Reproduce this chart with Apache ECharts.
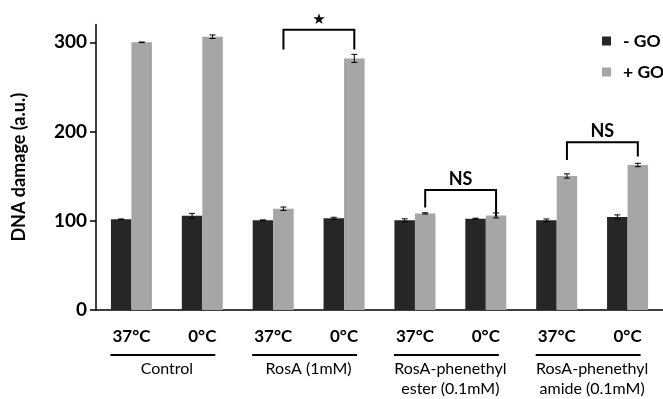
<!DOCTYPE html>
<html>
<head>
<meta charset="utf-8">
<script src="https://cdn.jsdelivr.net/npm/echarts@6/dist/echarts.min.js"></script>
<style>
  html, body { margin: 0; padding: 0; background: #fff; }
  #chart { width: 663px; height: 399px; }
</style>
</head>
<body>
<div id="chart"></div>
<script>
// values
const categories = ['37°C', '0°C', '37°C', '0°C', '37°C', '0°C', '37°C', '0°C'];
const groups = ['Control', 'RosA (1mM)', 'RosA-phenethyl\nester (0.1mM)', 'RosA-phenethyl\namide (0.1mM)'];
const minusGO = [101.6, 105.5, 100.5, 102.7, 100.5, 102.4, 100.5, 104.2];
const minusErr = [0.4, 2.8, 0.5, 1.2, 1.7, 0.5, 1.5, 2.4];
const plusGO = [300, 306.3, 113.5, 282, 108.3, 106, 150.2, 162.5];
const plusErr = [0.3, 2.0, 1.9, 4.5, 0.7, 2.8, 2.4, 1.9];
const yTicks = [0, 100, 200, 300];
// [from category, to category, bracket top, left leg end, right leg end, label]
const brackets = [
  [2, 3, 314, 292, 292, '★'],
  [4, 5, 134.5, 115, 104.6, 'NS'],
  [6, 7, 188, 168, 172, 'NS']
];
const groupSpans = [[0, 1], [2, 3], [4, 5], [6, 7]];

const BAR_W = 20.5;
const FONT = 'Lato';

function errorBars(values, errs, side) {
  return {
    type: 'custom',
    silent: true,
    z: 5,
    data: values.map((v, i) => [i, v, errs[i]]),
    renderItem: function (params, api) {
      const x = api.value(0), v = api.value(1), e = api.value(2);
      const top = api.coord([x, v + e]);
      const bot = api.coord([x, v - e]);
      const cx = top[0] + side * BAR_W / 2;
      const st = { stroke: '#000', lineWidth: 1 };
      return {
        type: 'group',
        children: [
          { type: 'line', shape: { x1: cx, y1: top[1], x2: cx, y2: bot[1] }, style: st },
          { type: 'line', shape: { x1: cx - 3, y1: top[1], x2: cx + 3, y2: top[1] }, style: st },
          { type: 'line', shape: { x1: cx - 3, y1: bot[1], x2: cx + 3, y2: bot[1] }, style: st }
        ]
      };
    }
  };
}

const chart = echarts.init(document.getElementById('chart'));
chart.setOption({
  animation: false,
  textStyle: { fontFamily: FONT },
  grid: { left: 96, top: 24.5, width: 568, bottom: 89, containLabel: false },
  legend: {
    data: ['- GO', '+ GO'],
    orient: 'vertical',
    left: 597,
    top: 27,
    itemWidth: 9,
    itemHeight: 9,
    itemGap: 13,
    icon: 'rect',
    textStyle: { fontSize: 17.5, fontWeight: 'bold', color: '#000', padding: [0, 0, 0, 7], fontFamily: FONT }
  },
  xAxis: [
    {
      type: 'category',
      data: categories,
      axisLine: { lineStyle: { color: '#000', width: 1.5 } },
      axisTick: { length: 5, lineStyle: { color: '#000', width: 1.5 } },
      axisLabel: { interval: 0, margin: 18, fontSize: 17, fontWeight: 'bold', color: '#000', fontFamily: FONT }
    },
    {
      type: 'category',
      data: groups,
      position: 'bottom',
      offset: 42,
      axisLine: { show: false },
      axisTick: { show: false },
      axisLabel: { interval: 0, hideOverlap: false, margin: 7, fontSize: 16, lineHeight: 20, color: '#000', fontFamily: FONT }
    }
  ],
  yAxis: {
    type: 'value',
    min: 0,
    max: 320,
    interval: 100,
    name: 'DNA damage (a.u.)',
    nameLocation: 'middle',
    nameGap: 68,
    nameTextStyle: { fontSize: 18, fontWeight: 'bold', color: '#000', fontFamily: FONT },
    axisLine: { show: true, lineStyle: { color: '#000', width: 1.5 } },
    axisTick: { show: true, length: 6, customValues: yTicks, lineStyle: { color: '#000', width: 1.5 } },
    axisLabel: { margin: 9, fontSize: 19, fontWeight: 'bold', color: '#000', customValues: yTicks, fontFamily: FONT },
    splitLine: { show: false }
  },
  series: [
    {
      name: '- GO',
      type: 'bar',
      data: minusGO,
      barWidth: BAR_W,
      barGap: '0%',
      itemStyle: { color: '#262626' }
    },
    {
      name: '+ GO',
      type: 'bar',
      data: plusGO,
      barWidth: BAR_W,
      barGap: '0%',
      itemStyle: { color: '#a6a6a6' }
    },
    errorBars(minusGO, minusErr, -1),
    errorBars(plusGO, plusErr, 1),
    {
      // significance brackets
      type: 'custom',
      silent: true,
      clip: false,
      z: 6,
      data: brackets,
      renderItem: function (params, api) {
        const b = brackets[params.dataIndex];
        const pTop1 = api.coord([b[0], b[2]]);
        const pTop2 = api.coord([b[1], b[2]]);
        const x1 = pTop1[0] + BAR_W / 2, x2 = pTop2[0] + BAR_W / 2;
        const yl = api.coord([b[0], b[3]])[1];
        const yr = api.coord([b[1], b[4]])[1];
        const isStar = b[5] === '★';
        return {
          type: 'group',
          children: [
            {
              type: 'polyline',
              shape: { points: [[x1, yl], [x1, pTop1[1]], [x2, pTop1[1]], [x2, yr]] },
              style: { stroke: '#000', lineWidth: 2, fill: null }
            },
            {
              type: 'text',
              style: {
                x: (x1 + x2) / 2,
                y: pTop1[1] - (isStar ? 10 : 11),
                text: b[5],
                align: 'center',
                verticalAlign: 'middle',
                fontSize: isStar ? 15 : 18,
                fontWeight: 'bold',
                fontFamily: isStar ? 'DejaVu Sans' : FONT,
                fill: '#000'
              }
            }
          ]
        };
      }
    },
    {
      // underline joining each pair of temperature labels
      type: 'custom',
      silent: true,
      clip: false,
      data: groupSpans,
      renderItem: function (params, api) {
        const a = api.coord([api.value(0), 0]);
        const b = api.coord([api.value(1), 0]);
        const y = a[1] + 45;
        return {
          type: 'line',
          shape: { x1: a[0] - 21, y1: y, x2: b[0] + 13, y2: y },
          style: { stroke: '#000', lineWidth: 2 }
        };
      }
    }
  ]
});
</script>
</body>
</html>
